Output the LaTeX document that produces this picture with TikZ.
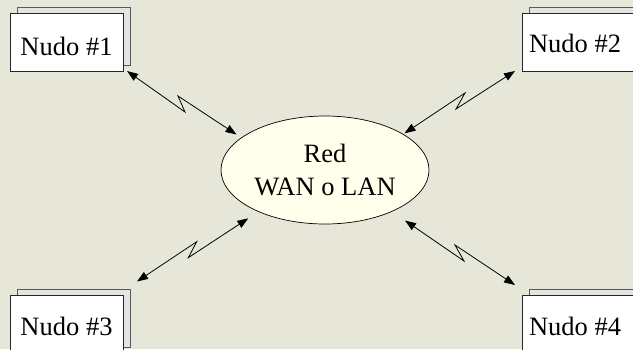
\documentclass[tikz,border=0pt]{standalone}
\usepackage{fontspec}
\setmainfont{Liberation Serif}
\usetikzlibrary{arrows.meta,shapes.geometric,shadows}
\definecolor{bgcol}{RGB}{231,231,217}
\definecolor{ellfill}{RGB}{255,255,235}
\definecolor{backfill}{RGB}{228,228,228}
\tikzset{
  nodebox/.style={draw=black!85, fill=white, line width=0.7bp, rectangle,
    minimum width=113bp, minimum height=58bp, inner sep=0pt,
    font=\fontsize{26.5bp}{32bp}\selectfont,
    copy shadow={shadow xshift=7bp, shadow yshift=6bp, fill=backfill, draw=black!65, line width=0.7bp}},
  netell/.style={ellipse, draw=black, fill=ellfill, line width=0.7bp,
    minimum width=208bp, minimum height=108bp, inner sep=0pt, align=center,
    font=\fontsize{26.5bp}{33bp}\selectfont},
  link/.style={line width=0.8bp, black, line join=miter,
    {Triangle[length=11bp,width=8bp]}-{Triangle[length=11bp,width=8bp]}}
}
\begin{document}
\begin{tikzpicture}[x=1bp, y=-1bp]
\useasboundingbox (0,0) rectangle (633,349);
\fill[bgcol] (0,0) rectangle (633,349);

\node[nodebox, text height=26bp, text depth=0bp] (n1) at (66.5,42) {Nudo \#1};
\node[nodebox, text height=20bp, text depth=0bp] (n2) at (578.5,42) {\hspace{-7bp}Nudo \#2};
\node[nodebox, text height=22bp, text depth=0bp] (n3) at (66.5,324) {Nudo \#3};
\node[nodebox, text height=22bp, text depth=0bp] (n4) at (578.5,324) {\hspace{-7bp}Nudo \#4};

\node[netell] (net) at (325,170) {\rule{0pt}{16bp}Red\\WAN o LAN};

% connector 1
\coordinate (c1s) at (127,71);
\coordinate (c1b) at (185,112);
\coordinate (c1a) at (178,96);
\coordinate (c1e) at (236.5,134.5);
% connector 2
\coordinate (c2s) at (404.5,133.3);
\coordinate (c2a) at (465,93);
\coordinate (c2b) at (456,109);
\coordinate (c2e) at (515,71);
% connector 3
\coordinate (c3s) at (137,281.5);
\coordinate (c3a) at (196.7,241.7);
\coordinate (c3b) at (188.3,257.7);
\coordinate (c3e) at (248.3,218.3);
% connector 4
\coordinate (c4s) at (405,220.5);
\coordinate (c4b) at (464,261);
\coordinate (c4a) at (455,245);
\coordinate (c4e) at (515,285);

\draw[link] (c1s) -- (c1b) -- (c1a) -- (c1e);
\draw[link] (c2s) -- (c2a) -- (c2b) -- (c2e);
\draw[link] (c3s) -- (c3a) -- (c3b) -- (c3e);
\draw[link] (c4s) -- (c4b) -- (c4a) -- (c4e);
\end{tikzpicture}
\end{document}
